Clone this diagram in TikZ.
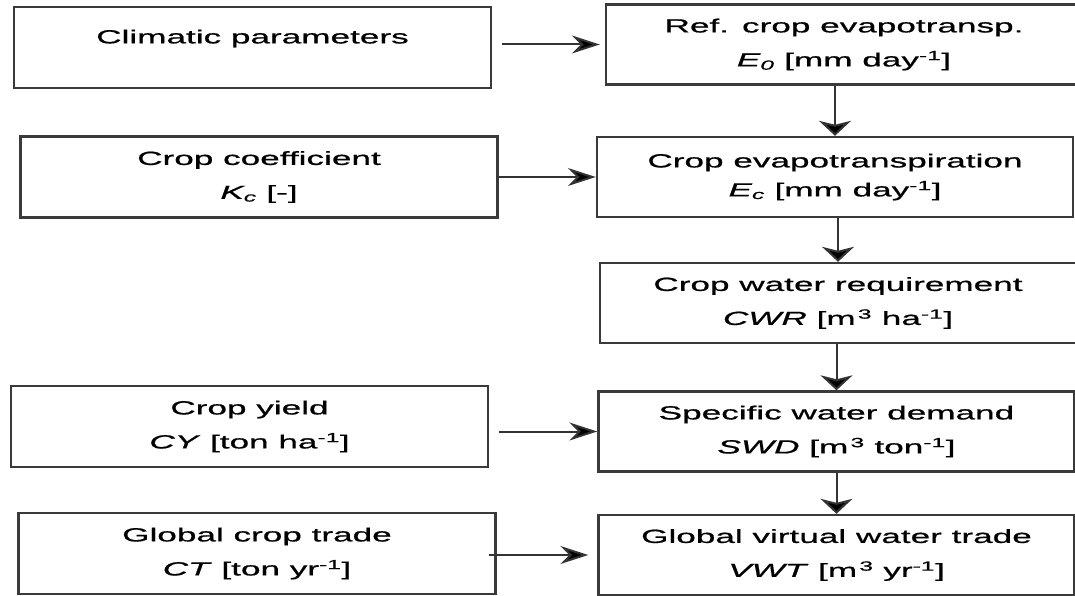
\documentclass[tikz,border=0pt]{standalone}
\usepackage{fontspec}
\setmainfont{Liberation Sans}[FakeStretch=1.85, FakeBold=0.8]
\usepackage{tikz}
\usetikzlibrary{
  arrows.meta,
  positioning
}
\definecolor{boxline}{HTML}{3A3A3A}
\definecolor{flowline}{HTML}{333333}

\begin{document}
\begin{tikzpicture}[
  x=1pt, y=-1pt,
  inputbox/.style={
    draw=boxline, line width=2.4pt, inner sep=0pt,
    minimum width=477pt, minimum height=81pt,
    align=center, font=\fontsize{19}{34}\selectfont
  },
  stepbox/.style={
    inputbox, minimum width=476pt, minimum height=80pt
  },
  hflow/.style={draw=flowline, line width=2pt,
    -{Stealth[length=28pt, width=18pt, inset=9pt, fill=black]}},
  vflow/.style={draw=flowline, line width=2pt,
    -{Stealth[length=15pt, width=32pt, inset=4pt, fill=black]}}
]

  \useasboundingbox (0,0) rectangle (1075,596);

  % ── Input boxes (left column) ──
  \node[inputbox] (clim) at (252.5,47.5) {Climatic parameters\\[-12pt]\mbox{}};
  \node[inputbox] (coef) at (259,177)
    {Crop coefficient\\\textit{K\textsubscript{c}} [-]};
  \node[inputbox] (yield) at (249.5,426.5)
    {Crop yield\\\textit{CY} [ton ha\textsuperscript{-1}]};
  \node[inputbox] (trade) at (257,553.5)
    {Global crop trade\\\textit{CT} [ton yr\textsuperscript{-1}]};

  % ── Calculation steps (right column) ──
  \node[stepbox] (eref) at (844,44.5)
    {Ref. crop evapotransp.\\\textit{E\textsubscript{0}} [mm day\textsuperscript{-1}]};
  \node[stepbox] (ecrop) at (835,177)
    {Crop evapotranspiration\\[-5pt]\textit{E\textsubscript{c}} [mm day\textsuperscript{-1}]};
  \node[stepbox] (cwr) at (838,303)
    {Crop water requirement\\\textit{CWR} [m\textsuperscript{\,3} ha\textsuperscript{-1}]};
  \node[stepbox] (swd) at (836.5,431.5)
    {Specific water demand\\\textit{SWD} [m\textsuperscript{\,3} ton\textsuperscript{-1}]};
  \node[stepbox] (vwt) at (836.5,555)
    {Global virtual water trade\\\textit{VWT} [m\textsuperscript{\,3} yr\textsuperscript{-1}]};

  % ── Inputs feeding the steps ──
  \draw[hflow, shorten <=10pt, shorten >=5pt] (eref.west -| clim.east) -- (eref.west);
  \draw[hflow] (coef.east) -- (ecrop.west);
  \draw[hflow, shorten <=10pt] (swd.west -| yield.east) -- (swd.west);
  \draw[hflow, shorten <=-8pt, shorten >=9pt] (vwt.west -| trade.east) -- (vwt.west);

  % ── Chain of steps ──
  \draw[vflow] (ecrop.north |- eref.south) -- (ecrop.north);
  \draw[vflow] (cwr.north |- ecrop.south) -- (cwr.north);
  \draw[vflow] (swd.north |- cwr.south) -- (swd.north);
  \draw[vflow] (vwt.north |- swd.south) -- (vwt.north);

\end{tikzpicture}
\end{document}
